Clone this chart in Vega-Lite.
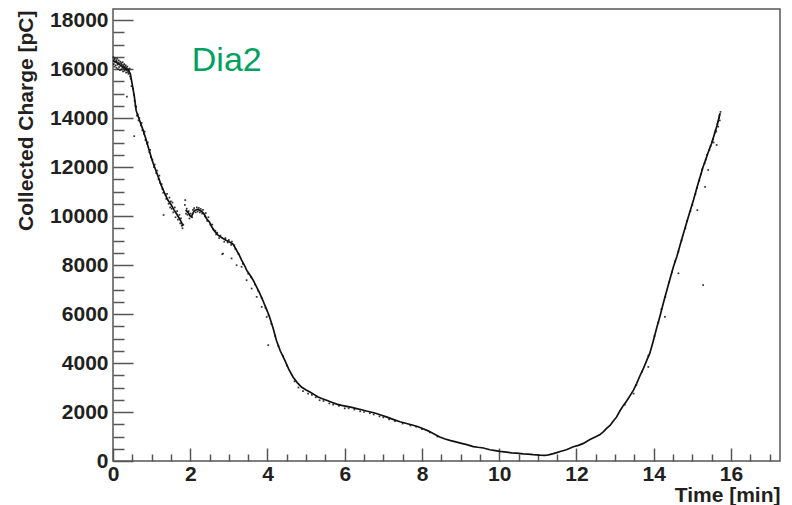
{
  "$schema": "https://vega.github.io/schema/vega-lite/v6.json",
  "width": 667,
  "height": 452,
  "autosize": {"type": "none"},
  "padding": {"left": 113, "top": 9, "right": 12, "bottom": 44},
  "background": "white",
  "config": {
    "view": {"stroke": "#555555", "strokeWidth": 1.5},
    "axis": {
      "grid": false,
      "domain": false,
      "tickColor": "#555555",
      "tickWidth": 1.5,
      "labelFont": "Liberation Sans",
      "labelFontWeight": "bold",
      "labelFontSize": 21,
      "labelColor": "#231f20",
      "labelFlush": false,
      "labelOverlap": false,
      "titleFont": "Liberation Sans",
      "titleFontWeight": "bold",
      "titleFontSize": 21,
      "titleColor": "#231f20"
    }
  },
  "datasets": {
    "trace": [
      {"t": 0.00, "q": 16350, "s": 1}, {"t": 0.05, "q": 16300, "s": 1}, {"t": 0.10, "q": 16250, "s": 1},
      {"t": 0.15, "q": 16200, "s": 1}, {"t": 0.20, "q": 16150, "s": 1}, {"t": 0.25, "q": 16100, "s": 1},
      {"t": 0.30, "q": 16050, "s": 1}, {"t": 0.35, "q": 16000, "s": 1}, {"t": 0.40, "q": 15950, "s": 1},
      {"t": 0.45, "q": 15800, "s": 1}, {"t": 0.50, "q": 15350, "s": 1}, {"t": 0.55, "q": 14900, "s": 1},
      {"t": 0.60, "q": 14300, "s": 1}, {"t": 0.70, "q": 13850, "s": 1}, {"t": 0.78, "q": 13500, "s": 1},
      {"t": 0.85, "q": 13150, "s": 1}, {"t": 0.91, "q": 12830, "s": 1}, {"t": 1.00, "q": 12350, "s": 1},
      {"t": 1.04, "q": 12150, "s": 1}, {"t": 1.10, "q": 11900, "s": 1}, {"t": 1.17, "q": 11600, "s": 1},
      {"t": 1.25, "q": 11250, "s": 1}, {"t": 1.34, "q": 10920, "s": 1}, {"t": 1.42, "q": 10650, "s": 1},
      {"t": 1.51, "q": 10450, "s": 1}, {"t": 1.58, "q": 10250, "s": 1}, {"t": 1.64, "q": 10100, "s": 1},
      {"t": 1.70, "q": 9950, "s": 1}, {"t": 1.77, "q": 9750, "s": 1}, {"t": 1.81, "q": 9600, "s": 1},
      {"t": 1.88, "q": 10250, "s": 2}, {"t": 1.94, "q": 10150, "s": 2}, {"t": 2.00, "q": 10000, "s": 2},
      {"t": 2.03, "q": 9970, "s": 2}, {"t": 2.08, "q": 10150, "s": 2}, {"t": 2.12, "q": 10240, "s": 2},
      {"t": 2.20, "q": 10270, "s": 2}, {"t": 2.29, "q": 10200, "s": 2}, {"t": 2.36, "q": 10080, "s": 2},
      {"t": 2.42, "q": 9900, "s": 2}, {"t": 2.50, "q": 9750, "s": 2}, {"t": 2.55, "q": 9580, "s": 2},
      {"t": 2.62, "q": 9400, "s": 2}, {"t": 2.72, "q": 9220, "s": 2}, {"t": 2.85, "q": 9080, "s": 2},
      {"t": 2.94, "q": 9000, "s": 2}, {"t": 3.03, "q": 8930, "s": 2}, {"t": 3.11, "q": 8850, "s": 2},
      {"t": 3.20, "q": 8600, "s": 2}, {"t": 3.27, "q": 8400, "s": 2}, {"t": 3.33, "q": 8200, "s": 2},
      {"t": 3.40, "q": 8000, "s": 2}, {"t": 3.46, "q": 7790, "s": 2}, {"t": 3.55, "q": 7580, "s": 2},
      {"t": 3.63, "q": 7380, "s": 2}, {"t": 3.72, "q": 7100, "s": 2}, {"t": 3.80, "q": 6840, "s": 2},
      {"t": 3.88, "q": 6560, "s": 2}, {"t": 3.93, "q": 6360, "s": 2}, {"t": 4.00, "q": 6100, "s": 2},
      {"t": 4.06, "q": 5850, "s": 2}, {"t": 4.15, "q": 5400, "s": 2}, {"t": 4.23, "q": 4930, "s": 2},
      {"t": 4.33, "q": 4500, "s": 2}, {"t": 4.45, "q": 4110, "s": 2}, {"t": 4.55, "q": 3750, "s": 2},
      {"t": 4.66, "q": 3430, "s": 2}, {"t": 4.77, "q": 3200, "s": 2}, {"t": 4.88, "q": 3020, "s": 2},
      {"t": 5.00, "q": 2900, "s": 2}, {"t": 5.10, "q": 2820, "s": 2}, {"t": 5.20, "q": 2720, "s": 2},
      {"t": 5.31, "q": 2610, "s": 2}, {"t": 5.42, "q": 2540, "s": 2}, {"t": 5.53, "q": 2480, "s": 2},
      {"t": 5.66, "q": 2400, "s": 2}, {"t": 5.79, "q": 2320, "s": 2}, {"t": 5.92, "q": 2270, "s": 2},
      {"t": 6.05, "q": 2230, "s": 2}, {"t": 6.18, "q": 2190, "s": 2}, {"t": 6.31, "q": 2140, "s": 2},
      {"t": 6.44, "q": 2090, "s": 2}, {"t": 6.56, "q": 2040, "s": 2}, {"t": 6.70, "q": 1990, "s": 2},
      {"t": 6.82, "q": 1940, "s": 2}, {"t": 6.95, "q": 1870, "s": 2}, {"t": 7.08, "q": 1800, "s": 2},
      {"t": 7.25, "q": 1700, "s": 2}, {"t": 7.43, "q": 1600, "s": 2}, {"t": 7.60, "q": 1530, "s": 2},
      {"t": 7.77, "q": 1460, "s": 2}, {"t": 7.90, "q": 1400, "s": 2}, {"t": 8.03, "q": 1320, "s": 2},
      {"t": 8.16, "q": 1230, "s": 2}, {"t": 8.29, "q": 1120, "s": 2}, {"t": 8.46, "q": 980, "s": 2},
      {"t": 8.60, "q": 900, "s": 2}, {"t": 8.72, "q": 840, "s": 2}, {"t": 8.90, "q": 770, "s": 2},
      {"t": 9.05, "q": 710, "s": 2}, {"t": 9.16, "q": 670, "s": 2}, {"t": 9.33, "q": 590, "s": 2},
      {"t": 9.45, "q": 560, "s": 2}, {"t": 9.59, "q": 530, "s": 2}, {"t": 9.76, "q": 460, "s": 2},
      {"t": 9.90, "q": 420, "s": 2}, {"t": 10.02, "q": 390, "s": 2}, {"t": 10.19, "q": 360, "s": 2},
      {"t": 10.32, "q": 330, "s": 2}, {"t": 10.45, "q": 320, "s": 2}, {"t": 10.62, "q": 290, "s": 2},
      {"t": 10.75, "q": 280, "s": 2}, {"t": 10.88, "q": 260, "s": 2}, {"t": 11.05, "q": 240, "s": 2},
      {"t": 11.18, "q": 230, "s": 2}, {"t": 11.23, "q": 235, "s": 2}, {"t": 11.30, "q": 260, "s": 2},
      {"t": 11.40, "q": 300, "s": 2}, {"t": 11.49, "q": 340, "s": 2}, {"t": 11.60, "q": 400, "s": 2},
      {"t": 11.74, "q": 460, "s": 2}, {"t": 11.92, "q": 580, "s": 2}, {"t": 12.05, "q": 640, "s": 2},
      {"t": 12.18, "q": 720, "s": 2}, {"t": 12.35, "q": 880, "s": 2}, {"t": 12.50, "q": 990, "s": 2},
      {"t": 12.61, "q": 1080, "s": 2}, {"t": 12.70, "q": 1200, "s": 2}, {"t": 12.78, "q": 1330, "s": 2},
      {"t": 12.87, "q": 1450, "s": 2}, {"t": 12.95, "q": 1620, "s": 2}, {"t": 13.04, "q": 1800, "s": 2},
      {"t": 13.13, "q": 2060, "s": 2}, {"t": 13.22, "q": 2280, "s": 2}, {"t": 13.30, "q": 2450, "s": 2},
      {"t": 13.40, "q": 2700, "s": 2}, {"t": 13.48, "q": 2900, "s": 2}, {"t": 13.56, "q": 3170, "s": 2},
      {"t": 13.65, "q": 3500, "s": 2}, {"t": 13.74, "q": 3800, "s": 2}, {"t": 13.82, "q": 4110, "s": 2},
      {"t": 13.90, "q": 4400, "s": 2}, {"t": 13.98, "q": 4850, "s": 2}, {"t": 14.08, "q": 5450, "s": 2},
      {"t": 14.16, "q": 5900, "s": 2}, {"t": 14.25, "q": 6450, "s": 2}, {"t": 14.34, "q": 6970, "s": 2},
      {"t": 14.43, "q": 7480, "s": 2}, {"t": 14.51, "q": 7930, "s": 2}, {"t": 14.60, "q": 8350, "s": 2},
      {"t": 14.68, "q": 8800, "s": 2}, {"t": 14.77, "q": 9290, "s": 2}, {"t": 14.90, "q": 9980, "s": 2},
      {"t": 15.03, "q": 10650, "s": 2}, {"t": 15.15, "q": 11330, "s": 2}, {"t": 15.28, "q": 12010, "s": 2},
      {"t": 15.40, "q": 12550, "s": 2}, {"t": 15.50, "q": 12970, "s": 2}, {"t": 15.56, "q": 13280, "s": 2},
      {"t": 15.63, "q": 13640, "s": 2}, {"t": 15.68, "q": 13950, "s": 2}, {"t": 15.72, "q": 14200, "s": 2}
    ],
    "spread": [
      {"t": 0.01, "q": 16480}, {"t": 0.02, "q": 16200}, {"t": 0.03, "q": 16390}, {"t": 0.04, "q": 16100},
      {"t": 0.05, "q": 16440}, {"t": 0.06, "q": 16280}, {"t": 0.07, "q": 16150}, {"t": 0.08, "q": 16360},
      {"t": 0.09, "q": 16050}, {"t": 0.10, "q": 16310}, {"t": 0.11, "q": 16420}, {"t": 0.12, "q": 16180},
      {"t": 0.13, "q": 16000}, {"t": 0.14, "q": 16260}, {"t": 0.15, "q": 16350}, {"t": 0.16, "q": 16080},
      {"t": 0.17, "q": 16220}, {"t": 0.18, "q": 15950}, {"t": 0.19, "q": 16300}, {"t": 0.20, "q": 16130},
      {"t": 0.21, "q": 16240}, {"t": 0.22, "q": 15980}, {"t": 0.23, "q": 16190}, {"t": 0.24, "q": 16050},
      {"t": 0.25, "q": 16280}, {"t": 0.26, "q": 15900}, {"t": 0.27, "q": 16150}, {"t": 0.28, "q": 16020},
      {"t": 0.29, "q": 16200}, {"t": 0.30, "q": 15930}, {"t": 0.31, "q": 16100}, {"t": 0.32, "q": 15980},
      {"t": 0.33, "q": 16150}, {"t": 0.34, "q": 15850}, {"t": 0.35, "q": 16050}, {"t": 0.36, "q": 15950},
      {"t": 0.37, "q": 16100}, {"t": 0.38, "q": 15880}, {"t": 0.39, "q": 16000}, {"t": 0.40, "q": 15800},
      {"t": 0.41, "q": 15950}, {"t": 0.42, "q": 15850}, {"t": 0.43, "q": 16020}, {"t": 0.44, "q": 15700},
      {"t": 0.46, "q": 15600}, {"t": 0.48, "q": 15300}, {"t": 0.36, "q": 14870},
      {"t": 0.52, "q": 15200}, {"t": 0.54, "q": 14950}, {"t": 0.56, "q": 14700}, {"t": 0.58, "q": 14500},
      {"t": 0.60, "q": 14450}, {"t": 0.62, "q": 14100}, {"t": 0.64, "q": 14150}, {"t": 0.66, "q": 13900},
      {"t": 0.68, "q": 14000}, {"t": 0.55, "q": 13260}, {"t": 0.72, "q": 13700}, {"t": 0.74, "q": 13800},
      {"t": 0.76, "q": 13500}, {"t": 0.80, "q": 13350}, {"t": 0.82, "q": 13450}, {"t": 0.84, "q": 13100},
      {"t": 0.88, "q": 12950}, {"t": 0.90, "q": 13000}, {"t": 0.94, "q": 12600}, {"t": 0.96, "q": 12700},
      {"t": 0.98, "q": 12400}, {"t": 1.02, "q": 12300}, {"t": 1.06, "q": 12000}, {"t": 1.08, "q": 12100},
      {"t": 1.12, "q": 11750}, {"t": 1.14, "q": 11850}, {"t": 1.18, "q": 11500}, {"t": 1.20, "q": 11650},
      {"t": 1.22, "q": 11350}, {"t": 1.26, "q": 11300}, {"t": 1.28, "q": 11100}, {"t": 1.30, "q": 10950},
      {"t": 1.31, "q": 10040}, {"t": 1.36, "q": 10850}, {"t": 1.38, "q": 10700}, {"t": 1.40, "q": 10900},
      {"t": 1.44, "q": 10500}, {"t": 1.46, "q": 10750}, {"t": 1.48, "q": 10350}, {"t": 1.50, "q": 10600},
      {"t": 1.52, "q": 10300}, {"t": 1.54, "q": 10550}, {"t": 1.56, "q": 10150}, {"t": 1.60, "q": 10350},
      {"t": 1.62, "q": 9950}, {"t": 1.66, "q": 10200}, {"t": 1.68, "q": 9850}, {"t": 1.72, "q": 10050},
      {"t": 1.74, "q": 9700}, {"t": 1.76, "q": 9900}, {"t": 1.78, "q": 9600}, {"t": 1.80, "q": 9500},
      {"t": 1.82, "q": 9650},
      {"t": 1.86, "q": 10450}, {"t": 1.87, "q": 10650}, {"t": 1.89, "q": 10100}, {"t": 1.91, "q": 10300},
      {"t": 1.93, "q": 10050}, {"t": 1.96, "q": 10200}, {"t": 1.98, "q": 9900}, {"t": 2.01, "q": 10100},
      {"t": 2.05, "q": 9950}, {"t": 2.07, "q": 10250}, {"t": 2.10, "q": 10320}, {"t": 2.14, "q": 10150},
      {"t": 2.17, "q": 10350}, {"t": 2.19, "q": 10180}, {"t": 2.22, "q": 10330}, {"t": 2.25, "q": 10150},
      {"t": 2.27, "q": 10290}, {"t": 2.31, "q": 10100}, {"t": 2.33, "q": 10250}, {"t": 2.38, "q": 9980},
      {"t": 2.40, "q": 10120}, {"t": 2.44, "q": 9800}, {"t": 2.47, "q": 9950}, {"t": 2.52, "q": 9650},
      {"t": 2.57, "q": 9650}, {"t": 2.60, "q": 9450}, {"t": 2.65, "q": 9400}, {"t": 2.67, "q": 9250},
      {"t": 2.70, "q": 9320}, {"t": 2.75, "q": 9100}, {"t": 2.78, "q": 9200}, {"t": 2.83, "q": 8440},
      {"t": 2.85, "q": 8470}, {"t": 2.88, "q": 8950}, {"t": 2.91, "q": 9100}, {"t": 2.97, "q": 8920},
      {"t": 3.00, "q": 9020}, {"t": 3.06, "q": 8820}, {"t": 3.08, "q": 8960}, {"t": 3.14, "q": 8800},
      {"t": 3.17, "q": 8650},
      {"t": 3.07, "q": 8270}, {"t": 3.20, "q": 7990}, {"t": 3.33, "q": 7930}, {"t": 3.46, "q": 7380},
      {"t": 3.59, "q": 7040}, {"t": 3.72, "q": 6700}, {"t": 3.85, "q": 6290}, {"t": 3.98, "q": 5880},
      {"t": 4.02, "q": 4730},
      {"t": 3.25, "q": 8450}, {"t": 3.36, "q": 8050}, {"t": 3.50, "q": 7650}, {"t": 3.58, "q": 7500},
      {"t": 3.68, "q": 7200}, {"t": 3.76, "q": 6950}, {"t": 3.85, "q": 6650}, {"t": 3.95, "q": 6250},
      {"t": 4.03, "q": 5950}, {"t": 4.10, "q": 5600}, {"t": 4.20, "q": 5100}, {"t": 4.28, "q": 4700},
      {"t": 4.40, "q": 4280}, {"t": 4.50, "q": 3900},
      {"t": 4.70, "q": 3250}, {"t": 4.80, "q": 3000}, {"t": 4.92, "q": 2850}, {"t": 5.05, "q": 2750},
      {"t": 5.15, "q": 2700}, {"t": 5.25, "q": 2600}, {"t": 5.35, "q": 2480}, {"t": 5.45, "q": 2450},
      {"t": 5.60, "q": 2350}, {"t": 5.70, "q": 2300}, {"t": 5.85, "q": 2250}, {"t": 6.00, "q": 2150},
      {"t": 6.10, "q": 2150}, {"t": 6.25, "q": 2100}, {"t": 6.40, "q": 2030}, {"t": 6.50, "q": 2000},
      {"t": 6.65, "q": 1950}, {"t": 6.75, "q": 1900}, {"t": 6.90, "q": 1820}, {"t": 7.00, "q": 1780},
      {"t": 7.15, "q": 1700}, {"t": 7.30, "q": 1630}, {"t": 7.50, "q": 1530}, {"t": 7.70, "q": 1450},
      {"t": 7.85, "q": 1400}, {"t": 8.00, "q": 1300}, {"t": 8.20, "q": 1170}, {"t": 8.40, "q": 1000},
      {"t": 13.25, "q": 2300}, {"t": 13.55, "q": 3100}, {"t": 13.70, "q": 3650}, {"t": 13.86, "q": 4300},
      {"t": 14.02, "q": 5100}, {"t": 14.12, "q": 5650}, {"t": 14.20, "q": 6200}, {"t": 14.30, "q": 6700},
      {"t": 14.40, "q": 7300}, {"t": 14.47, "q": 7700}, {"t": 14.55, "q": 8150}, {"t": 14.64, "q": 8550},
      {"t": 14.72, "q": 9000}, {"t": 14.82, "q": 9500}, {"t": 14.86, "q": 9800}, {"t": 14.95, "q": 10200},
      {"t": 15.00, "q": 10450}, {"t": 15.08, "q": 10900}, {"t": 15.12, "q": 11150}, {"t": 15.18, "q": 11450},
      {"t": 15.22, "q": 11700}, {"t": 15.25, "q": 11900}, {"t": 15.32, "q": 12150}, {"t": 15.35, "q": 12300},
      {"t": 15.38, "q": 12500}, {"t": 15.44, "q": 12700}, {"t": 15.47, "q": 12850}, {"t": 15.52, "q": 13050},
      {"t": 15.54, "q": 13150}, {"t": 15.58, "q": 13400}, {"t": 15.60, "q": 13500}, {"t": 15.62, "q": 13450},
      {"t": 15.65, "q": 13750}, {"t": 15.66, "q": 13850}, {"t": 15.69, "q": 14000}, {"t": 15.70, "q": 14100},
      {"t": 15.71, "q": 13900}, {"t": 15.73, "q": 14250}, {"t": 15.67, "q": 13650}, {"t": 15.55, "q": 13000},
      {"t": 15.28, "q": 7180}, {"t": 15.63, "q": 12900}, {"t": 15.41, "q": 11880}, {"t": 15.33, "q": 11190},
      {"t": 15.13, "q": 10240}, {"t": 14.64, "q": 7660}, {"t": 14.29, "q": 5880}, {"t": 13.86, "q": 3840},
      {"t": 13.48, "q": 2750}
    ]
  },
  "resolve": {"axis": {"x": "independent", "y": "independent"}},
  "layer": [
    {
      "data": {"name": "trace"},
      "mark": {"type": "line", "color": "#111111", "strokeWidth": 1.7, "interpolate": "linear"},
      "encoding": {
        "x": {
          "field": "t", "type": "quantitative",
          "scale": {"domain": [0, 17.27], "nice": false, "zero": false},
          "axis": {
            "orient": "bottom",
            "values": [0, 2, 4, 6, 8, 10, 12, 14, 16],
            "tickSize": -13,
            "labelPadding": 15,
            "title": "Time [min]",
            "titleAnchor": "end",
            "titleAlign": "right",
            "titleBaseline": "middle",
            "titleX": 667,
            "titleY": 34
          }
        },
        "y": {
          "field": "q", "type": "quantitative",
          "scale": {"domain": [0, 18450], "nice": false, "zero": false},
          "axis": {
            "orient": "left",
            "values": [0, 2000, 4000, 6000, 8000, 10000, 12000, 14000, 16000, 18000],
            "format": "d",
            "tickSize": -20,
            "labelPadding": 25,
            "title": "Collected Charge [pC]",
            "titleAngle": -90,
            "titleAlign": "right",
            "titleBaseline": "middle",
            "titleX": -87,
            "titleY": 1
          }
        },
        "detail": {"field": "s", "type": "nominal"}
      }
    },
    {
      "data": {"name": "spread"},
      "mark": {"type": "point", "shape": "square", "filled": true, "size": 3, "color": "#111111", "opacity": 0.85},
      "encoding": {
        "x": {
          "field": "t", "type": "quantitative",
          "axis": {
            "orient": "bottom",
            "values": [0.5, 1, 1.5, 2.5, 3, 3.5, 4.5, 5, 5.5, 6.5, 7, 7.5, 8.5, 9, 9.5, 10.5, 11, 11.5, 12.5, 13, 13.5, 14.5, 15, 15.5, 16.5, 17],
            "tickSize": -7,
            "labels": false,
            "title": null
          }
        },
        "y": {
          "field": "q", "type": "quantitative",
          "axis": {
            "orient": "left",
            "values": [500, 1000, 1500, 2500, 3000, 3500, 4500, 5000, 5500, 6500, 7000, 7500, 8500, 9000, 9500, 10500, 11000, 11500, 12500, 13000, 13500, 14500, 15000, 15500, 16500, 17000, 17500],
            "tickSize": -11,
            "labels": false,
            "title": null
          }
        }
      }
    },
    {
      "data": {"values": [{}]},
      "mark": {"type": "text", "text": "Dia2", "font": "Liberation Sans", "fontSize": 34, "color": "#00a15f", "align": "left", "baseline": "alphabetic"},
      "encoding": {
        "x": {"datum": 2.04, "type": "quantitative", "axis": null},
        "y": {"datum": 15920, "type": "quantitative", "axis": null}
      }
    }
  ]
}
